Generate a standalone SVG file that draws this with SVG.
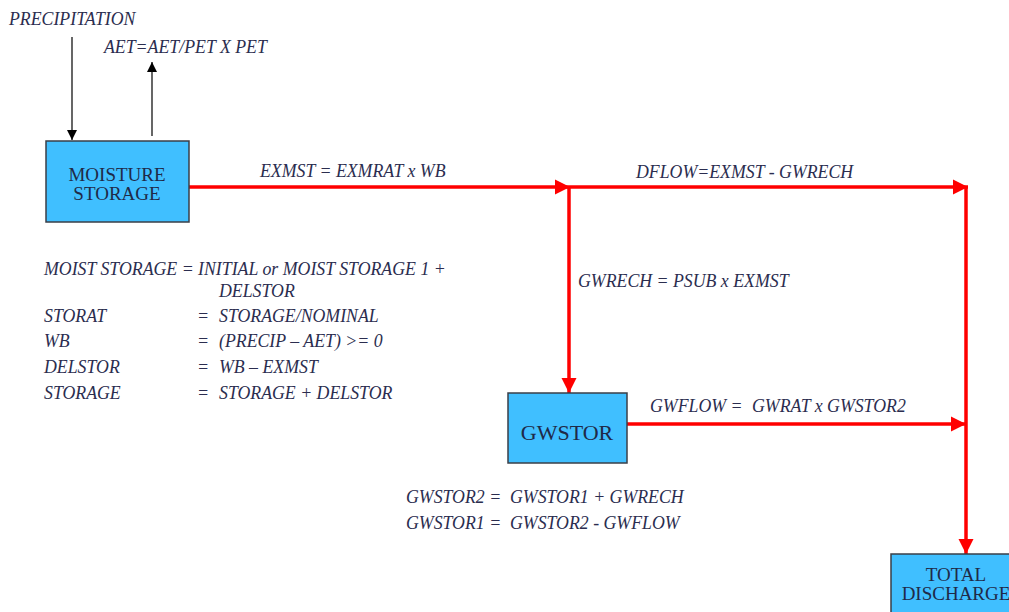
<svg xmlns="http://www.w3.org/2000/svg" width="1009" height="612" viewBox="0 0 1009 612">
<style>
.lbl{font-family:'Liberation Serif','Times New Roman',serif;font-style:italic;font-size:17.8px;fill:#2b2d4f}
.box{fill:#40bfff;stroke:#3a3f48;stroke-width:1.5}
.bt{font-family:'Liberation Serif','Times New Roman',serif;font-size:19px;fill:#1f2a48;text-anchor:middle}
.blk{stroke:#000;stroke-width:1.2;fill:none}
.red{stroke:#ff0000;stroke-width:3.5;fill:none}
</style>
<defs>
<marker id="ab" viewBox="0 0 10 10" refX="10" refY="5" markerWidth="10" markerHeight="10" markerUnits="userSpaceOnUse" orient="auto"><path d="M0,0L10,5L0,10z" fill="#000"/></marker>
<marker id="ar" viewBox="0 0 10 10" refX="10" refY="5" markerWidth="4.3" markerHeight="4.3" orient="auto"><path d="M0,0L10,5L0,10z" fill="#ff0000"/></marker>
</defs>
<rect width="1009" height="612" fill="#fff"/>
<g id="connectors">
<line class="blk" x1="72" y1="37" x2="72" y2="140" marker-end="url(#ab)"/>
<line class="blk" x1="152" y1="136" x2="152" y2="62" marker-end="url(#ab)"/>
<line class="red" x1="189" y1="187" x2="570" y2="187" marker-end="url(#ar)"/>
<line class="red" x1="570" y1="187" x2="968" y2="187" marker-end="url(#ar)"/>
<line class="red" x1="569" y1="186" x2="569" y2="393" marker-end="url(#ar)"/>
<line class="red" x1="627" y1="424" x2="966" y2="424" marker-end="url(#ar)"/>
<line class="red" x1="966" y1="186" x2="966" y2="554" marker-end="url(#ar)"/>
</g>
<g id="labels">
<text class="lbl" x="9" y="25">PRECIPITATION</text>
<text class="lbl" x="104" y="53">AET=AET/PET X PET</text>
<text class="lbl" x="260" y="177">EXMST = EXMRAT x WB</text>
<text class="lbl" x="636" y="178">DFLOW=EXMST - GWRECH</text>
<text class="lbl" x="578" y="287">GWRECH = PSUB x EXMST</text>
<text class="lbl" x="650" y="412">GWFLOW =<tspan x="752">GWRAT x GWSTOR2</tspan></text>
<text class="lbl" x="406" y="503">GWSTOR2 =<tspan x="510">GWSTOR1 + GWRECH</tspan></text>
<text class="lbl" x="406" y="529">GWSTOR1 =<tspan x="510">GWSTOR2 - GWFLOW</tspan></text>
</g>
<g id="equations">
<text class="lbl" x="44" y="275">MOIST STORAGE = INITIAL or MOIST STORAGE 1 +</text>
<text class="lbl" x="219" y="297">DELSTOR</text>
<text class="lbl" x="44" y="322">STORAT</text>
<text class="lbl" x="197" y="322">=<tspan x="219">STORAGE/NOMINAL</tspan></text>
<text class="lbl" x="44" y="347">WB</text>
<text class="lbl" x="197" y="347">=<tspan x="219">(PRECIP – AET) &gt;= 0</tspan></text>
<text class="lbl" x="44" y="373">DELSTOR</text>
<text class="lbl" x="197" y="373">=<tspan x="219">WB – EXMST</tspan></text>
<text class="lbl" x="44" y="399">STORAGE</text>
<text class="lbl" x="197" y="399">=<tspan x="219">STORAGE + DELSTOR</tspan></text>
</g>
<g id="moisture-storage">
<rect class="box" x="46" y="141" width="143" height="81"/>
<text class="bt" x="117" y="181">MOISTURE</text>
<text class="bt" x="117" y="200">STORAGE</text>
</g>
<g id="gwstor">
<rect class="box" x="508" y="393" width="119" height="70"/>
<text class="bt" x="567" y="440" style="font-size:22px">GWSTOR</text>
</g>
<g id="total-discharge">
<rect class="box" x="891" y="554" width="125" height="66"/>
<text class="bt" x="956" y="581">TOTAL</text>
<text class="bt" x="956" y="600">DISCHARGE</text>
</g>
</svg>
